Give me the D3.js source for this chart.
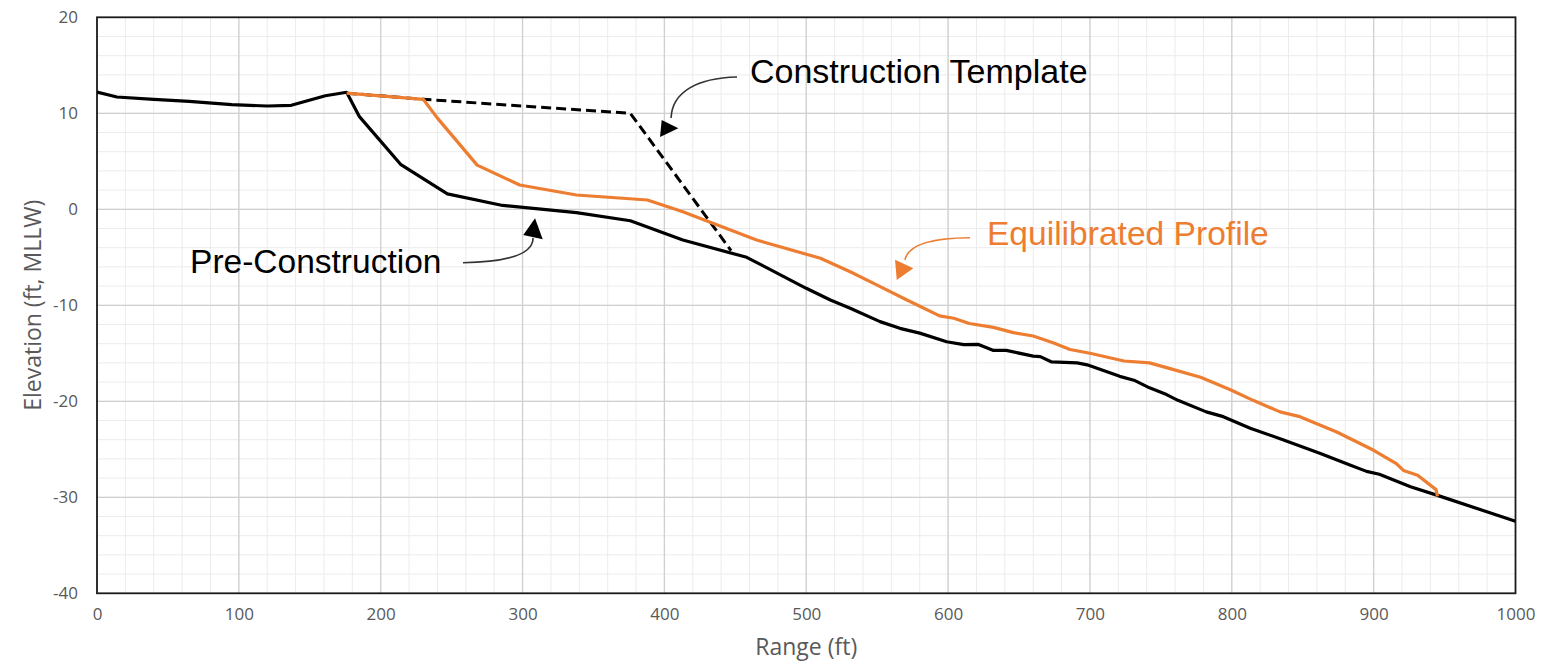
<!DOCTYPE html>
<html><head><meta charset="utf-8">
<script src="https://cdn.jsdelivr.net/npm/d3@7/dist/d3.min.js"></script>
<style>html,body{margin:0;padding:0;background:#fff;}svg{display:block;}</style>
</head><body>
<svg id="c" width="1542" height="672"></svg>
<script>
// ---------- data ----------
const xTicks = [0,100,200,300,400,500,600,700,800,900,1000];
const yTicks = [-40,-30,-20,-10,0,10,20];

const preX = [0,14,40,65,95,120,137,161,176,185,214,247,286,338,376,413,458,500,517,531,552,566,580,599,611,621,632,641,660,665,673,691,698,721,731,742,754,762,782,794,813,836,862,881,895,904,926,945,1000];
const preY = [12.2,11.7,11.45,11.25,10.9,10.76,10.83,11.83,12.19,9.65,4.69,1.6,0.4,-0.35,-1.19,-3.2,-5.0,-8.23,-9.45,-10.3,-11.7,-12.4,-12.9,-13.8,-14.1,-14.06,-14.7,-14.7,-15.3,-15.35,-15.9,-16.0,-16.2,-17.4,-17.8,-18.6,-19.3,-19.9,-21.1,-21.6,-22.8,-24.0,-25.4,-26.5,-27.3,-27.6,-28.9,-29.8,-32.5];

const eqX = [176,230,240,268,298,338,388,413,465,510,531,550,571,594,604,615,632,646,660,674,686,700,724,742,759,778,799,815,834,848,874,900,916,921,931,944,945];
const eqY = [12.1,11.46,9.5,4.6,2.53,1.49,0.97,-0.25,-3.2,-5.1,-6.5,-7.9,-9.45,-11.1,-11.35,-11.9,-12.3,-12.85,-13.2,-13.9,-14.6,-15.0,-15.8,-16.0,-16.7,-17.5,-18.8,-19.9,-21.1,-21.6,-23.2,-25.1,-26.5,-27.2,-27.7,-29.2,-29.9];

const tplX = [176,230,376,447];
const tplY = [12.1,11.46,10.0,-4.3];

const labels = ["Construction Template","Pre-Construction","Equilibrated Profile"];
const xTitle = "Range (ft)";
const yTitle = "Elevation (ft, MLLW)";

// ---------- layout ----------
const W = 1542, H = 672;
const m = {l:97, t:17.3, r:26.5, b:78.7};
const svg = d3.select("#c");
const x = d3.scaleLinear().domain([0,1000]).range([m.l, W-m.r]);
const y = d3.scaleLinear().domain([-40,20]).range([H-m.b, m.t]);
const ORANGE = "#ED7D31";
const fmt = d => String(d);

// grid
const g = svg.append("g");
g.selectAll(".vm").data(d3.range(0,1001,20)).join("line")
  .attr("x1",d=>x(d)).attr("x2",d=>x(d)).attr("y1",y(-40)).attr("y2",y(20))
  .attr("stroke","#ececec").attr("stroke-width",1);
g.selectAll(".hm").data(d3.range(-40,21,2)).join("line")
  .attr("y1",d=>y(d)).attr("y2",d=>y(d)).attr("x1",x(0)).attr("x2",x(1000))
  .attr("stroke","#ececec").attr("stroke-width",1);
g.selectAll(".vM").data(d3.range(100,1000,100)).join("line")
  .attr("x1",d=>x(d)).attr("x2",d=>x(d)).attr("y1",y(-40)).attr("y2",y(20))
  .attr("stroke","#d0d0d0").attr("stroke-width",1.3);
g.selectAll(".hM").data(d3.range(-30,20,10)).join("line")
  .attr("y1",d=>y(d)).attr("y2",d=>y(d)).attr("x1",x(0)).attr("x2",x(1000))
  .attr("stroke","#d0d0d0").attr("stroke-width",1.3);

// axes (labels only)
const xa = svg.append("g").attr("transform",`translate(0,${y(-40)})`)
  .call(d3.axisBottom(x).tickValues(xTicks).tickSize(0).tickPadding(15).tickFormat(fmt));
const ya = svg.append("g").attr("transform",`translate(${x(0)},0)`)
  .call(d3.axisLeft(y).tickValues(yTicks).tickSize(0).tickPadding(19).tickFormat(fmt));
[xa,ya].forEach(a=>{
  a.select(".domain").remove();
  a.selectAll("text").attr("font-family","'Open Sans', sans-serif").attr("font-size",17).attr("fill","#595959");
});

// frame
svg.append("rect").attr("x",x(0)).attr("y",y(20)).attr("width",x(1000)-x(0)).attr("height",y(-40)-y(20))
  .attr("fill","none").attr("stroke","#1a1a1a").attr("stroke-width",1.8);

// axis titles
svg.append("text").attr("x",(x(0)+x(1000))/2).attr("y",655).attr("text-anchor","middle")
  .attr("font-family","'Open Sans', sans-serif").attr("font-size",23).attr("fill","#595959").text(xTitle);
svg.append("text").attr("transform",`translate(41,${(y(20)+y(-40))/2}) rotate(-90)`).attr("text-anchor","middle")
  .attr("font-family","'Open Sans', sans-serif").attr("font-size",23).attr("fill","#595959").text(yTitle);

// lines
const line = d3.line().x(d=>x(d[0])).y(d=>y(d[1]));
const zip = (a,b)=>a.map((v,i)=>[v,b[i]]);
svg.append("clipPath").attr("id","pc").append("rect")
  .attr("x",x(0)).attr("y",y(20)).attr("width",x(1000)-x(0)).attr("height",y(-40)-y(20));
const lg = svg.append("g").attr("clip-path","url(#pc)");
lg.append("path").attr("d",line(zip(tplX,tplY))).attr("fill","none").attr("stroke","#000")
  .attr("stroke-width",3).attr("stroke-dasharray","10,5");
lg.append("path").attr("d",line(zip(preX,preY))).attr("fill","none").attr("stroke","#000")
  .attr("stroke-width",3.2).attr("stroke-linejoin","round");
lg.append("path").attr("d",line(zip(eqX,eqY))).attr("fill","none").attr("stroke",ORANGE)
  .attr("stroke-width",3.2).attr("stroke-linejoin","round");

// annotations (in data units)
const ann = [
  {text:labels[0], color:"#000", acolor:"#333", size:34, tx:460.3, ty:13.12,
   curve:[[451.2,13.78],[423.0,13.68],[405.4,12.22],[404.7,9.51]],
   head:[[396.9,7.53],[398.1,9.30],[409.8,8.44]]},
  {text:labels[1], color:"#000", acolor:"#333", size:33.5, tx:65.6, ty:-6.67,
   curve:[[258.0,-5.56],[287.6,-5.49],[307.4,-4.76],[307.4,-2.99]],
   head:[[308.8,-0.93],[300.5,-2.68],[314.2,-3.13]]},
  {text:labels[2], color:ORANGE, acolor:ORANGE, size:33.6, tx:627.4, ty:-3.72,
   curve:[[615.4,-2.96],[587.2,-2.99],[571.7,-3.72],[569.6,-5.26]],
   head:[[563.8,-7.36],[562.6,-5.26],[575.5,-6.15]]}
];
ann.forEach(a=>{
  svg.append("text").attr("x",x(a.tx)).attr("y",y(a.ty))
    .attr("font-family","'Liberation Sans', Arial, sans-serif").attr("font-size",a.size)
    .attr("fill",a.color).text(a.text);
  const c = a.curve.map(p=>[x(p[0]),y(p[1])]);
  svg.append("path").attr("d",`M${c[0]}C${c[1]} ${c[2]} ${c[3]}`)
    .attr("fill","none").attr("stroke",a.acolor).attr("stroke-width",1.6);
  svg.append("polygon").attr("points",a.head.map(p=>[x(p[0]),y(p[1])].join(",")).join(" "))
    .attr("fill",a.color==="#000"?"#000":ORANGE);
});
</script>
</body></html>
